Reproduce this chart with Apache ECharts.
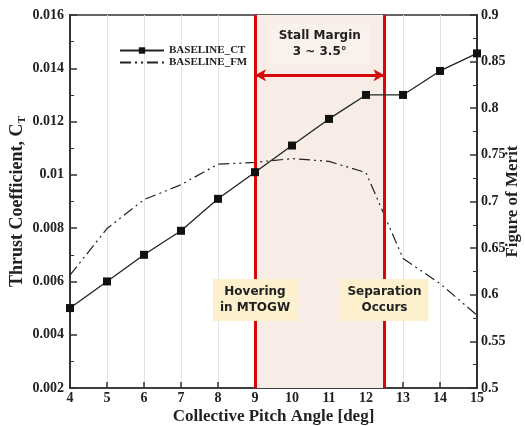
<!DOCTYPE html>
<html>
<head>
<meta charset="utf-8">
<script src="https://cdn.jsdelivr.net/npm/echarts@6/dist/echarts.min.js"></script>
<style>
  html, body { margin: 0; padding: 0; background: #fff; }
  #chart { width: 525px; height: 426px; }
</style>
</head>
<body>
<div id="chart"></div>
<script>
// collective pitch angle [deg]
var pitch = [4, 5, 6, 7, 8, 9, 10, 11, 12, 13, 14, 15];
var thrustCT = [0.0050, 0.0060, 0.0070, 0.0079, 0.0091, 0.0101, 0.0111, 0.0121, 0.0130, 0.0130, 0.0139, 0.01456];
var meritFM = [0.621, 0.671, 0.702, 0.718, 0.740, 0.742, 0.746, 0.743, 0.731, 0.639, 0.612, 0.578];
var stallStart = 9, stallEnd = 12.5;

var serif = '"Liberation Serif", "DejaVu Serif", serif';
var sans = '"DejaVu Sans", Verdana, sans-serif';

var chart = echarts.init(document.getElementById('chart'));

function pairs(ys) {
    return pitch.map(function (x, i) { return [x, ys[i]]; });
}
function trimNum(v) {
    return String(parseFloat(v.toFixed(4)));
}

var option = {
    animation: false,
    grid: {
        left: 70, right: 48, top: 15, bottom: 38,
        containLabel: false, outerBoundsMode: 'none',
        show: true, borderColor: '#333', borderWidth: 1.5, backgroundColor: 'transparent'
    },
    legend: {
        orient: 'vertical',
        left: 114, top: 40,
        itemWidth: 44, itemHeight: 8, itemGap: 1,
        textStyle: { fontFamily: serif, fontWeight: 'bold', fontSize: 11, lineHeight: 9, color: '#222' },
        data: [
            { name: 'BASELINE_CT' },
            { name: 'BASELINE_FM', itemStyle: { color: 'transparent', borderWidth: 0 } }
        ]
    },
    xAxis: {
        type: 'value',
        min: 4, max: 15, interval: 1,
        name: 'Collective Pitch Angle [deg]',
        nameLocation: 'middle', nameGap: 20, nameMoveOverlap: false,
        nameTextStyle: { fontFamily: serif, fontWeight: 'bold', fontSize: 17, color: '#222' },
        axisLine: { lineStyle: { color: '#333', width: 1.5 } },
        axisTick: { inside: true, length: 6, lineStyle: { color: '#333', width: 1.5 } },
        axisLabel: { margin: 3, fontFamily: serif, fontWeight: 'bold', fontSize: 14, color: '#222' },
        splitLine: { show: true, lineStyle: { color: '#e3e3e3', width: 1 } }
    },
    yAxis: [{
        type: 'value',
        min: 0.002, max: 0.016, interval: 0.002,
        name: '{a|Thrust Coefficient, C}{s|T}',
        nameLocation: 'middle', nameGap: 42, nameRotate: 90, nameMoveOverlap: false,
        nameTextStyle: {
            rich: {
                a: { fontFamily: serif, fontWeight: 'bold', fontSize: 18, color: '#222', lineHeight: 22 },
                s: { fontFamily: serif, fontWeight: 'bold', fontSize: 11, color: '#222', lineHeight: 22, verticalAlign: 'bottom', padding: [8, 0, 0, 0] }
            }
        },
        axisLine: { show: true, lineStyle: { color: '#333', width: 2 } },
        axisTick: { inside: true, length: 7, lineStyle: { color: '#333', width: 1.5 } },
        minorTick: { show: true, splitNumber: 2, length: 4, lineStyle: { color: '#333', width: 1 } },
        axisLabel: { margin: 6, fontFamily: serif, fontWeight: 'bold', fontSize: 14, color: '#222', formatter: trimNum },
        splitLine: { show: false }
    }, {
        type: 'value',
        position: 'right',
        min: 0.5, max: 0.9, interval: 0.05,
        name: 'Figure of Merit',
        nameLocation: 'middle', nameGap: 27, nameRotate: 90, nameMoveOverlap: false,
        nameTextStyle: { fontFamily: serif, fontWeight: 'bold', fontSize: 17, color: '#222' },
        axisLine: { show: true, lineStyle: { color: '#333', width: 2 } },
        axisTick: { inside: true, length: 7, lineStyle: { color: '#333', width: 1.5 } },
        minorTick: { show: true, splitNumber: 2, length: 4, lineStyle: { color: '#333', width: 1 } },
        axisLabel: { margin: 4, fontFamily: serif, fontWeight: 'bold', fontSize: 14, color: '#222', formatter: trimNum },
        splitLine: { show: false }
    }],
    series: [{
        name: 'BASELINE_CT',
        type: 'line',
        yAxisIndex: 0,
        data: pairs(thrustCT),
        symbol: 'rect', symbolSize: 8,
        itemStyle: { color: '#111' },
        lineStyle: { color: '#222', width: 1.3 },
        z: 5,
        markArea: {
            silent: true,
            itemStyle: { color: '#f8ece6' },
            data: [[{ xAxis: stallStart }, { xAxis: stallEnd }]]
        },
        markLine: {
            silent: true,
            symbol: 'none',
            label: { show: false },
            lineStyle: { color: '#d40a0a', width: 3, type: 'solid' },
            data: [
                { xAxis: stallStart },
                { xAxis: stallEnd },
                [
                    { coord: [stallStart, 0.01374], symbol: 'arrow', symbolSize: [9, 11] },
                    { coord: [stallEnd, 0.01374], symbol: 'arrow', symbolSize: [9, 11] }
                ]
            ]
        },
        markPoint: {
            silent: true,
            symbol: 'rect', symbolSize: 1,
            itemStyle: { color: 'transparent' },
            label: {
                show: true, position: 'inside',
                fontFamily: sans, fontWeight: 'bold', fontSize: 12, lineHeight: 16, color: '#222'
            },
            data: [
                {
                    coord: [(stallStart + stallEnd) / 2, 0.0149],
                    label: { formatter: 'Stall Margin\n3 ~ 3.5°', backgroundColor: '#faf1ec', padding: [4, 10, 4, 10] }
                },
                {
                    coord: [stallStart, 0.0053],
                    label: { formatter: 'Hovering\nin MTOGW', backgroundColor: '#fdf0cc', padding: [5, 7, 5, 7] }
                },
                {
                    coord: [stallEnd, 0.0053],
                    label: { formatter: 'Separation\nOccurs', backgroundColor: '#fdf0cc', padding: [5, 7, 5, 7] }
                }
            ]
        }
    }, {
        name: 'BASELINE_FM',
        type: 'line',
        yAxisIndex: 1,
        data: pairs(meritFM),
        symbol: 'none',
        itemStyle: { color: '#222' },
        lineStyle: { color: '#222', width: 1.2, type: [11, 4, 2, 4, 2, 4] },
        z: 4
    }]
};

chart.setOption(option);
</script>
</body>
</html>
